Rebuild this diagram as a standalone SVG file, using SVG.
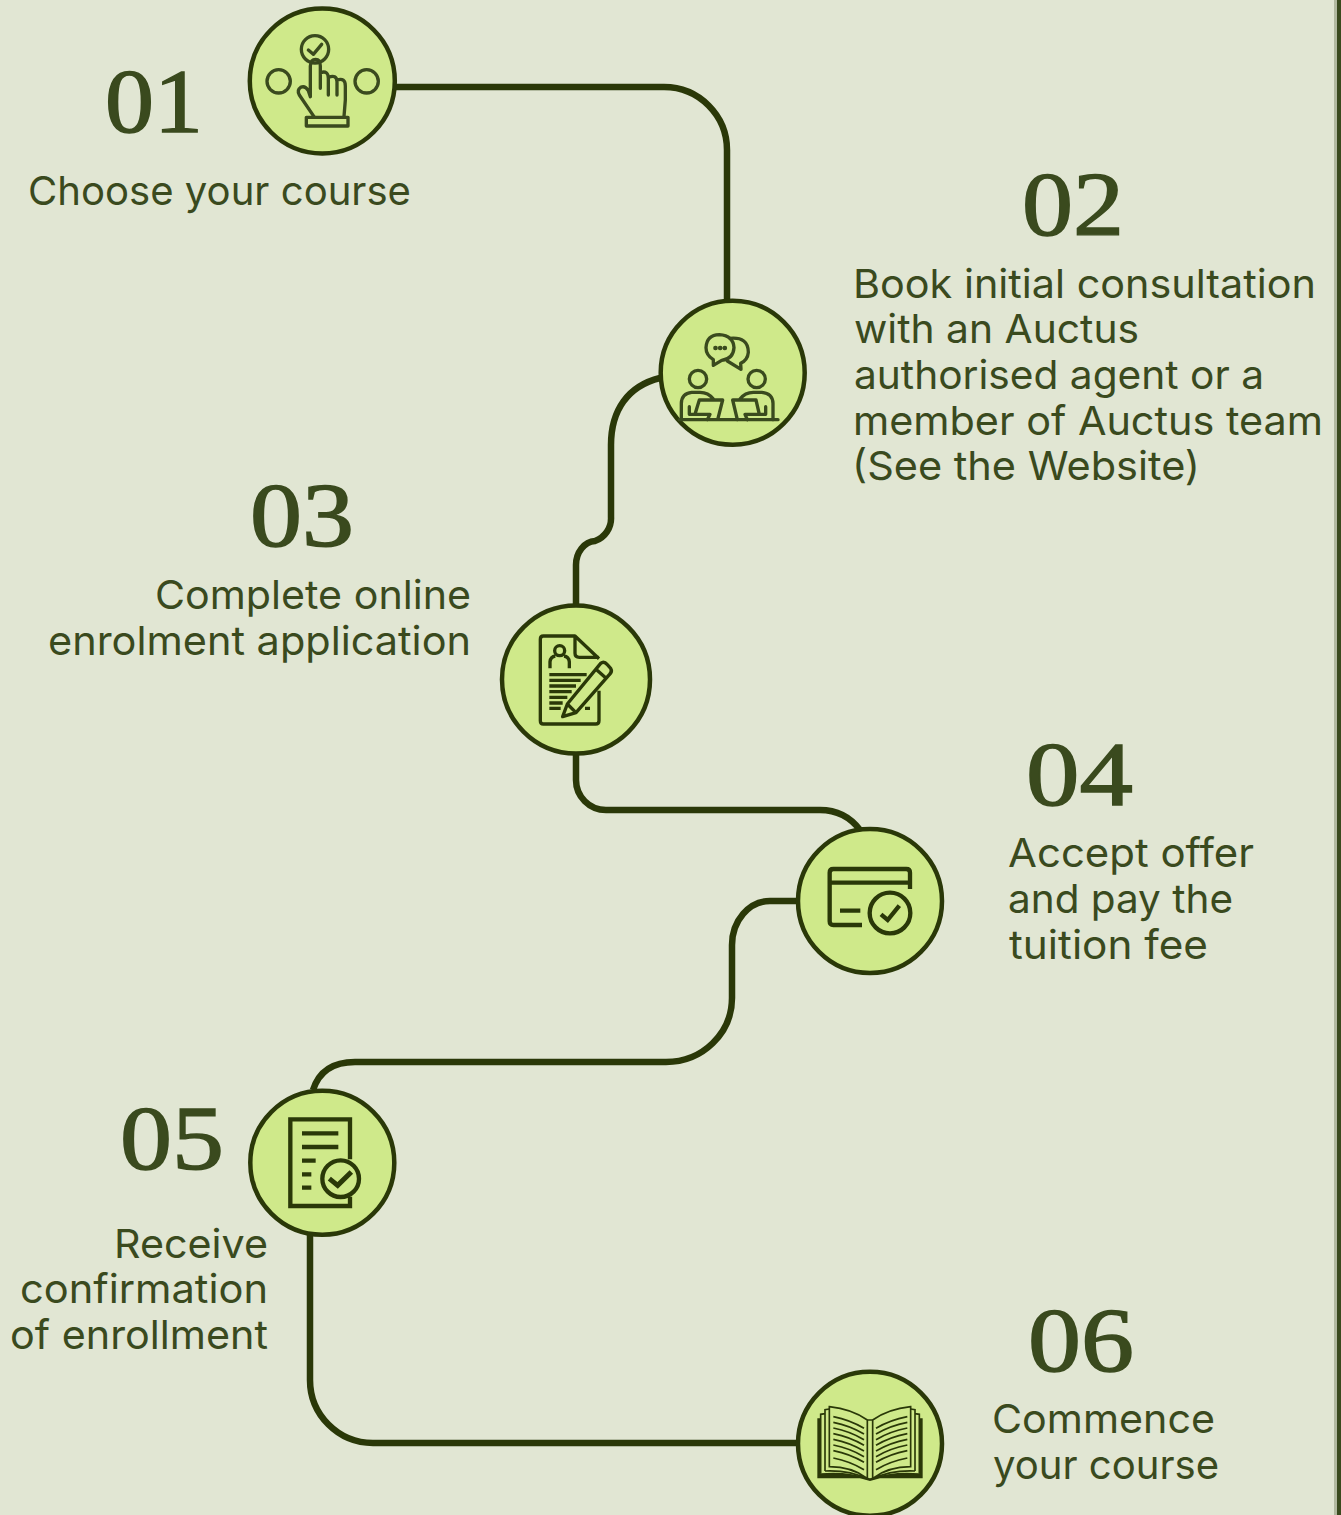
<svg xmlns="http://www.w3.org/2000/svg" width="1341" height="1515" viewBox="0 0 1341 1515">
<style>
.num{font-family:"Liberation Serif",serif;font-size:90px;fill:#3a4a1e;stroke:#3a4a1e;stroke-width:1.4px}
.txt{font-family:"Inter","Liberation Sans",sans-serif;font-size:40px;fill:#3a4a1e}
.node{fill:#cfe98a;stroke:#2a3808;stroke-width:4.5}
.conn{fill:none;stroke:#2a3808;stroke-width:6.5}
.ic{fill:none;stroke:#3a4a1e;stroke-width:10;stroke-linejoin:round;stroke-linecap:round}
.id{fill:none;stroke:#2a3808;stroke-width:10;stroke-linejoin:round}
.id2{fill:none;stroke:#2a3808;stroke-width:13;stroke-linejoin:miter}
.bk{fill:none;stroke:#2a3808;stroke-width:5}
</style>
<rect width="1341" height="1515" fill="#e1e6d3"/>
<rect x="1334" width="3" height="1515" fill="#b2b9a0"/>
<rect x="1337" width="4" height="1515" fill="#3a4a1e"/>
<g id="connectors">
<path class="conn" d="M396 87H664A63 63 0 0 1 727 150V300"/>
<path class="conn" d="M660 378C628 386 611 410 611 445V517A24 24 0 0 1 595 541A20 24 0 0 0 576 565V606"/>
<path class="conn" d="M576 755V780A30 30 0 0 0 606 810H820Q845 810 860 830"/>
<path class="conn" d="M798 901H770A38 44 0 0 0 732 945V998A66 64 0 0 1 666 1062H355Q322 1062 313 1090"/>
<path class="conn" d="M310 1235V1380A63 63 0 0 0 373 1443H798"/>
</g>
<g id="node1">
<circle class="node" cx="322.3" cy="81" r="72.5"/>
<g transform="translate(240 0) scale(.33333)">
<circle class="ic" cx="225" cy="148" r="41"/>
<path class="ic" d="M205 150L220 163L245 133"/>
<circle class="ic" cx="116" cy="244" r="35"/>
<circle class="ic" cx="380" cy="244" r="35"/>
<path class="ic" d="M222 350L178 285Q170 270 182 262Q195 255 205 272L211 290V198Q212 178 227 178Q241 178 241 198V265M241 218Q265 210 265 235V285M265 232Q290 222 291 245V285M291 240Q316 232 316 258V300L312 350"/>
<rect class="ic" x="199" y="352" width="125" height="26"/>
</g>
</g>
<g id="node2">
<circle class="node" cx="732.7" cy="372.7" r="72"/>
<g transform="translate(650 295) scale(.33333)">
<path class="ic" d="M190 211V194Q168 180 168 158Q170 120 208 119Q250 122 252 158Q250 192 215 196Z"/>
<path class="ic" d="M240 130Q295 125 295 172Q293 195 272 205L273 223L232 198"/>
<path d="M196 159h30" stroke="#3a4a1e" stroke-width="13" stroke-dasharray="1 13" stroke-linecap="round" fill="none"/>
<circle class="ic" cx="144" cy="252" r="26"/>
<circle class="ic" cx="320" cy="252" r="26"/>
<path class="ic" d="M88 374H384M190 312Q175 292 150 292H125Q95 295 94 325V374M118 335V358H180L172 374M135 358L148 315H218L203 374"/>
<path class="ic" d="M270 312Q285 292 310 292H335Q368 295 369 325V374M347 335V358H285L292 374M328 358L318 315H248L262 374"/>
</g>
</g>
<g id="node3">
<circle class="node" cx="576" cy="679.5" r="74"/>
<g transform="translate(490 600) scale(.33333)">
<path class="id" d="M327 272V362Q327 372 317 372H160Q151 372 151 362V118Q151 108 160 108H255L327 176M255 108V160Q255 172 268 172H327"/>
<circle class="id" cx="209" cy="152" r="15"/>
<path class="id" d="M180 205V185Q182 170 196 168M238 205V185Q236 170 222 168"/>
<path class="id" d="M178 224H290M178 241H272M178 258H258M178 275H245M178 292H232M178 309H218M178 325H212M285 325H300"/>
<path class="id" d="M218 350L232 312L332 190Q342 182 352 194L362 205Q368 215 358 224L258 338ZM232 312L258 338M318 208L345 232"/>
</g>
</g>
<g id="node4">
<circle class="node" cx="870" cy="901" r="72"/>
<g transform="translate(790 820) scale(.33333)">
<path class="id2" style="stroke-linejoin:round" d="M216 315H130Q119 315 119 304V158Q119 147 130 147H349Q360 147 360 158V207M119 188H360M150 272H211"/>
<circle class="id2" cx="300" cy="279" r="61"/>
<path class="id2" d="M273 283L293 300L328 257"/>
</g>
</g>
<g id="node5">
<circle class="node" cx="322.3" cy="1162.7" r="72"/>
<g transform="translate(240 1080) scale(.33333)">
<path class="id2" d="M330 238V118H151V378H330V350"/>
<path class="id2" d="M186 160H295M186 201H295M186 242H227M186 283H214M186 323H214"/>
<circle class="id2" cx="302" cy="296" r="55"/>
<path class="id2" style="stroke-width:15" d="M268 296L293 316L334 276"/>
</g>
</g>
<g id="node6">
<circle class="node" cx="870" cy="1443.7" r="72"/>
<g transform="translate(790 1365) scale(.33333)">
<path d="M82 160H92V325Q170 318 240 340Q310 318 388 325V160H398V340H270L240 348L210 340H82Z" fill="#2a3808"/>
<path class="bk" d="M92 325V148L105 146M388 325V148L375 146M105 318V134L118 132M375 318V134L362 132"/>
<path class="bk" d="M118 125Q185 132 232 165V340Q185 305 118 305ZM362 125Q295 132 248 165V340Q295 305 362 305ZM232 165H248M105 318Q180 315 232 342M375 318Q300 315 248 342"/>
<path class="bk" d="M130 155Q180 165 222 190M130 172Q180 182 222 207M130 189Q180 199 222 224M130 206Q180 216 222 241M130 223Q180 233 222 258M130 240Q180 250 222 275M130 257Q180 267 222 292M130 279Q180 289 222 314M352 155Q300 165 258 190M352 172Q300 182 258 207M352 189Q300 199 258 224M352 206Q300 216 258 241M352 223Q300 233 258 258M352 240Q300 250 258 275M352 257Q300 267 258 292M352 279Q300 289 258 314"/>
</g>
</g>
<g id="labels">
<text class="num" x="105" y="132" textLength="98" lengthAdjust="spacingAndGlyphs">01</text>
<text class="txt" x="28" y="205" textLength="383" lengthAdjust="spacingAndGlyphs">Choose your course</text>
<text class="num" x="1022" y="235" textLength="102" lengthAdjust="spacingAndGlyphs">02</text>
<text class="txt" x="853" y="298" textLength="463" lengthAdjust="spacingAndGlyphs">Book initial consultation</text>
<text class="txt" x="854" y="343" textLength="285" lengthAdjust="spacingAndGlyphs">with an Auctus</text>
<text class="txt" x="854" y="389" textLength="410" lengthAdjust="spacingAndGlyphs">authorised agent or a</text>
<text class="txt" x="853" y="435" textLength="470" lengthAdjust="spacingAndGlyphs">member of Auctus team</text>
<text class="txt" x="852" y="480" textLength="348" lengthAdjust="spacingAndGlyphs">(See the Website)</text>
<text class="num" x="250" y="546" textLength="104" lengthAdjust="spacingAndGlyphs">03</text>
<text class="txt" x="155" y="609" textLength="316" lengthAdjust="spacingAndGlyphs">Complete online</text>
<text class="txt" x="48" y="655" textLength="423" lengthAdjust="spacingAndGlyphs">enrolment application</text>
<text class="num" x="1026" y="805" textLength="107" lengthAdjust="spacingAndGlyphs">04</text>
<text class="txt" x="1008" y="867" textLength="246" lengthAdjust="spacingAndGlyphs">Accept offer</text>
<text class="txt" x="1008" y="913" textLength="225" lengthAdjust="spacingAndGlyphs">and pay the</text>
<text class="txt" x="1009" y="959" textLength="199" lengthAdjust="spacingAndGlyphs">tuition fee</text>
<text class="num" x="120" y="1169" textLength="104" lengthAdjust="spacingAndGlyphs">05</text>
<text class="txt" x="114" y="1258" textLength="154" lengthAdjust="spacingAndGlyphs">Receive</text>
<text class="txt" x="20" y="1303" textLength="248" lengthAdjust="spacingAndGlyphs">confirmation</text>
<text class="txt" x="10" y="1349" textLength="258" lengthAdjust="spacingAndGlyphs">of enrollment</text>
<text class="num" x="1028" y="1371" textLength="106" lengthAdjust="spacingAndGlyphs">06</text>
<text class="txt" x="992" y="1433" textLength="223" lengthAdjust="spacingAndGlyphs">Commence</text>
<text class="txt" x="993" y="1479" textLength="226" lengthAdjust="spacingAndGlyphs">your course</text>
</g>
</svg>
